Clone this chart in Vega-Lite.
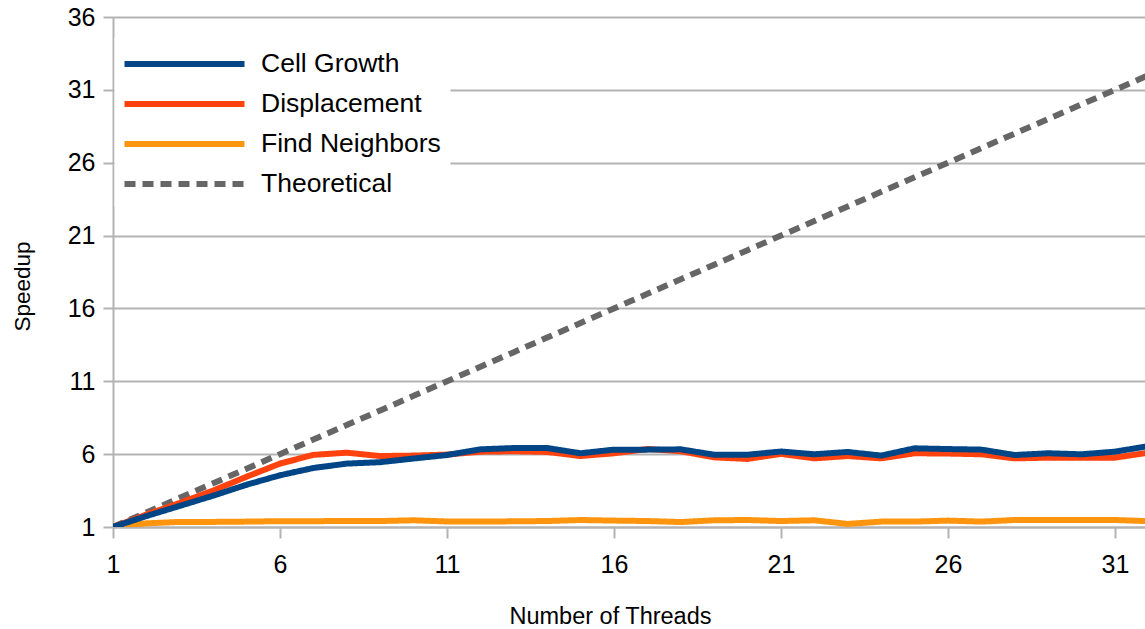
{
  "$schema": "https://vega.github.io/schema/vega-lite/v6.json",
  "width": 1032,
  "height": 510,
  "autosize": {"type": "none"},
  "padding": {"left": 113, "top": 17, "right": 0, "bottom": 102},
  "background": "white",
  "config": {
    "font": "Liberation Sans",
    "view": {"stroke": null},
    "axis": {
      "domainColor": "#b3b3b3",
      "domainWidth": 2,
      "tickColor": "#b3b3b3",
      "tickWidth": 2,
      "gridColor": "#b3b3b3",
      "gridWidth": 2,
      "labelColor": "#000000",
      "labelFontSize": 25,
      "titleColor": "#000000",
      "titleFontWeight": "normal"
    },
    "legend": {
      "orient": "none",
      "legendX": 1.5,
      "legendY": 20,
      "padding": 9,
      "fillColor": "white",
      "symbolType": "M-4,0H4",
      "symbolSize": 900,
      "symbolOffset": 43,
      "symbolStrokeWidth": 6,
      "labelFontSize": 26.5,
      "labelColor": "#000000",
      "labelOffset": 58.5,
      "rowPadding": 8,
      "labelLimit": 400
    }
  },
  "data": {
    "values": [
      {"threads": 1, "series": "Theoretical", "speedup": 1},
      {"threads": 2, "series": "Theoretical", "speedup": 2},
      {"threads": 3, "series": "Theoretical", "speedup": 3},
      {"threads": 4, "series": "Theoretical", "speedup": 4},
      {"threads": 5, "series": "Theoretical", "speedup": 5},
      {"threads": 6, "series": "Theoretical", "speedup": 6},
      {"threads": 7, "series": "Theoretical", "speedup": 7},
      {"threads": 8, "series": "Theoretical", "speedup": 8},
      {"threads": 9, "series": "Theoretical", "speedup": 9},
      {"threads": 10, "series": "Theoretical", "speedup": 10},
      {"threads": 11, "series": "Theoretical", "speedup": 11},
      {"threads": 12, "series": "Theoretical", "speedup": 12},
      {"threads": 13, "series": "Theoretical", "speedup": 13},
      {"threads": 14, "series": "Theoretical", "speedup": 14},
      {"threads": 15, "series": "Theoretical", "speedup": 15},
      {"threads": 16, "series": "Theoretical", "speedup": 16},
      {"threads": 17, "series": "Theoretical", "speedup": 17},
      {"threads": 18, "series": "Theoretical", "speedup": 18},
      {"threads": 19, "series": "Theoretical", "speedup": 19},
      {"threads": 20, "series": "Theoretical", "speedup": 20},
      {"threads": 21, "series": "Theoretical", "speedup": 21},
      {"threads": 22, "series": "Theoretical", "speedup": 22},
      {"threads": 23, "series": "Theoretical", "speedup": 23},
      {"threads": 24, "series": "Theoretical", "speedup": 24},
      {"threads": 25, "series": "Theoretical", "speedup": 25},
      {"threads": 26, "series": "Theoretical", "speedup": 26},
      {"threads": 27, "series": "Theoretical", "speedup": 27},
      {"threads": 28, "series": "Theoretical", "speedup": 28},
      {"threads": 29, "series": "Theoretical", "speedup": 29},
      {"threads": 30, "series": "Theoretical", "speedup": 30},
      {"threads": 31, "series": "Theoretical", "speedup": 31},
      {"threads": 32, "series": "Theoretical", "speedup": 32},
      {"threads": 1, "series": "Find Neighbors", "speedup": 1.0},
      {"threads": 2, "series": "Find Neighbors", "speedup": 1.25},
      {"threads": 3, "series": "Find Neighbors", "speedup": 1.35},
      {"threads": 4, "series": "Find Neighbors", "speedup": 1.35},
      {"threads": 5, "series": "Find Neighbors", "speedup": 1.37},
      {"threads": 6, "series": "Find Neighbors", "speedup": 1.4},
      {"threads": 7, "series": "Find Neighbors", "speedup": 1.4},
      {"threads": 8, "series": "Find Neighbors", "speedup": 1.41},
      {"threads": 9, "series": "Find Neighbors", "speedup": 1.41},
      {"threads": 10, "series": "Find Neighbors", "speedup": 1.46},
      {"threads": 11, "series": "Find Neighbors", "speedup": 1.38},
      {"threads": 12, "series": "Find Neighbors", "speedup": 1.37},
      {"threads": 13, "series": "Find Neighbors", "speedup": 1.39},
      {"threads": 14, "series": "Find Neighbors", "speedup": 1.41},
      {"threads": 15, "series": "Find Neighbors", "speedup": 1.48},
      {"threads": 16, "series": "Find Neighbors", "speedup": 1.44},
      {"threads": 17, "series": "Find Neighbors", "speedup": 1.41},
      {"threads": 18, "series": "Find Neighbors", "speedup": 1.34},
      {"threads": 19, "series": "Find Neighbors", "speedup": 1.46},
      {"threads": 20, "series": "Find Neighbors", "speedup": 1.48},
      {"threads": 21, "series": "Find Neighbors", "speedup": 1.41},
      {"threads": 22, "series": "Find Neighbors", "speedup": 1.46},
      {"threads": 23, "series": "Find Neighbors", "speedup": 1.21},
      {"threads": 24, "series": "Find Neighbors", "speedup": 1.37},
      {"threads": 25, "series": "Find Neighbors", "speedup": 1.37},
      {"threads": 26, "series": "Find Neighbors", "speedup": 1.44},
      {"threads": 27, "series": "Find Neighbors", "speedup": 1.37},
      {"threads": 28, "series": "Find Neighbors", "speedup": 1.48},
      {"threads": 29, "series": "Find Neighbors", "speedup": 1.48},
      {"threads": 30, "series": "Find Neighbors", "speedup": 1.48},
      {"threads": 31, "series": "Find Neighbors", "speedup": 1.48},
      {"threads": 32, "series": "Find Neighbors", "speedup": 1.4},
      {"threads": 1, "series": "Displacement", "speedup": 1.0},
      {"threads": 2, "series": "Displacement", "speedup": 1.85},
      {"threads": 3, "series": "Displacement", "speedup": 2.65},
      {"threads": 4, "series": "Displacement", "speedup": 3.5},
      {"threads": 5, "series": "Displacement", "speedup": 4.45},
      {"threads": 6, "series": "Displacement", "speedup": 5.35},
      {"threads": 7, "series": "Displacement", "speedup": 5.95},
      {"threads": 8, "series": "Displacement", "speedup": 6.1},
      {"threads": 9, "series": "Displacement", "speedup": 5.87},
      {"threads": 10, "series": "Displacement", "speedup": 5.9},
      {"threads": 11, "series": "Displacement", "speedup": 5.97},
      {"threads": 12, "series": "Displacement", "speedup": 6.17},
      {"threads": 13, "series": "Displacement", "speedup": 6.2},
      {"threads": 14, "series": "Displacement", "speedup": 6.15},
      {"threads": 15, "series": "Displacement", "speedup": 5.87},
      {"threads": 16, "series": "Displacement", "speedup": 6.06},
      {"threads": 17, "series": "Displacement", "speedup": 6.35},
      {"threads": 18, "series": "Displacement", "speedup": 6.2},
      {"threads": 19, "series": "Displacement", "speedup": 5.78},
      {"threads": 20, "series": "Displacement", "speedup": 5.67},
      {"threads": 21, "series": "Displacement", "speedup": 6.02},
      {"threads": 22, "series": "Displacement", "speedup": 5.71},
      {"threads": 23, "series": "Displacement", "speedup": 5.87},
      {"threads": 24, "series": "Displacement", "speedup": 5.71},
      {"threads": 25, "series": "Displacement", "speedup": 6.06},
      {"threads": 26, "series": "Displacement", "speedup": 6.04},
      {"threads": 27, "series": "Displacement", "speedup": 5.99},
      {"threads": 28, "series": "Displacement", "speedup": 5.71},
      {"threads": 29, "series": "Displacement", "speedup": 5.76},
      {"threads": 30, "series": "Displacement", "speedup": 5.76},
      {"threads": 31, "series": "Displacement", "speedup": 5.76},
      {"threads": 32, "series": "Displacement", "speedup": 6.1},
      {"threads": 1, "series": "Cell Growth", "speedup": 1.0},
      {"threads": 2, "series": "Cell Growth", "speedup": 1.75},
      {"threads": 3, "series": "Cell Growth", "speedup": 2.45},
      {"threads": 4, "series": "Cell Growth", "speedup": 3.15},
      {"threads": 5, "series": "Cell Growth", "speedup": 3.9},
      {"threads": 6, "series": "Cell Growth", "speedup": 4.55},
      {"threads": 7, "series": "Cell Growth", "speedup": 5.05},
      {"threads": 8, "series": "Cell Growth", "speedup": 5.35},
      {"threads": 9, "series": "Cell Growth", "speedup": 5.45},
      {"threads": 10, "series": "Cell Growth", "speedup": 5.7},
      {"threads": 11, "series": "Cell Growth", "speedup": 5.94},
      {"threads": 12, "series": "Cell Growth", "speedup": 6.33},
      {"threads": 13, "series": "Cell Growth", "speedup": 6.42},
      {"threads": 14, "series": "Cell Growth", "speedup": 6.42},
      {"threads": 15, "series": "Cell Growth", "speedup": 6.06},
      {"threads": 16, "series": "Cell Growth", "speedup": 6.31},
      {"threads": 17, "series": "Cell Growth", "speedup": 6.31},
      {"threads": 18, "series": "Cell Growth", "speedup": 6.33},
      {"threads": 19, "series": "Cell Growth", "speedup": 5.96},
      {"threads": 20, "series": "Cell Growth", "speedup": 5.96},
      {"threads": 21, "series": "Cell Growth", "speedup": 6.18},
      {"threads": 22, "series": "Cell Growth", "speedup": 5.99},
      {"threads": 23, "series": "Cell Growth", "speedup": 6.15},
      {"threads": 24, "series": "Cell Growth", "speedup": 5.9},
      {"threads": 25, "series": "Cell Growth", "speedup": 6.4},
      {"threads": 26, "series": "Cell Growth", "speedup": 6.35},
      {"threads": 27, "series": "Cell Growth", "speedup": 6.31},
      {"threads": 28, "series": "Cell Growth", "speedup": 5.94},
      {"threads": 29, "series": "Cell Growth", "speedup": 6.06},
      {"threads": 30, "series": "Cell Growth", "speedup": 5.99},
      {"threads": 31, "series": "Cell Growth", "speedup": 6.17},
      {"threads": 32, "series": "Cell Growth", "speedup": 6.55}
    ]
  },
  "mark": {"type": "line", "strokeWidth": 6, "strokeJoin": "round", "clip": true},
  "encoding": {
    "x": {
      "field": "threads",
      "type": "quantitative",
      "scale": {"domain": [1, 31.9], "nice": false, "zero": false},
      "axis": {
        "values": [1, 6, 11, 16, 21, 26, 31],
        "grid": false,
        "tickSize": 11,
        "labelPadding": 14,
        "labelFlush": false,
        "title": "Number of Threads",
        "titleFontSize": 23.5,
        "titleX": 497,
        "titleY": 96,
        "titleAnchor": null,
        "titleAlign": "center",
        "titleBaseline": "alphabetic"
      }
    },
    "y": {
      "field": "speedup",
      "type": "quantitative",
      "scale": {"domain": [1, 36], "nice": false, "zero": false},
      "axis": {
        "values": [1, 6, 11, 16, 21, 26, 31, 36],
        "grid": true,
        "tickSize": 10,
        "labelPadding": 8,
        "title": "Speedup",
        "titleFontSize": 22.5,
        "titleAngle": 270,
        "titleX": -91,
        "titleY": 269,
        "titleAlign": "center",
        "titleBaseline": "middle"
      }
    },
    "color": {
      "field": "series",
      "type": "nominal",
      "scale": {
        "domain": ["Cell Growth", "Displacement", "Find Neighbors", "Theoretical"],
        "range": ["#004586", "#ff420e", "#ff950e", "#666666"]
      },
      "legend": {"title": null}
    },
    "strokeDash": {
      "field": "series",
      "type": "nominal",
      "scale": {
        "domain": ["Cell Growth", "Displacement", "Find Neighbors", "Theoretical"],
        "range": [[1, 0], [1, 0], [1, 0], [11, 7]]
      },
      "legend": {"title": null}
    }
  }
}
